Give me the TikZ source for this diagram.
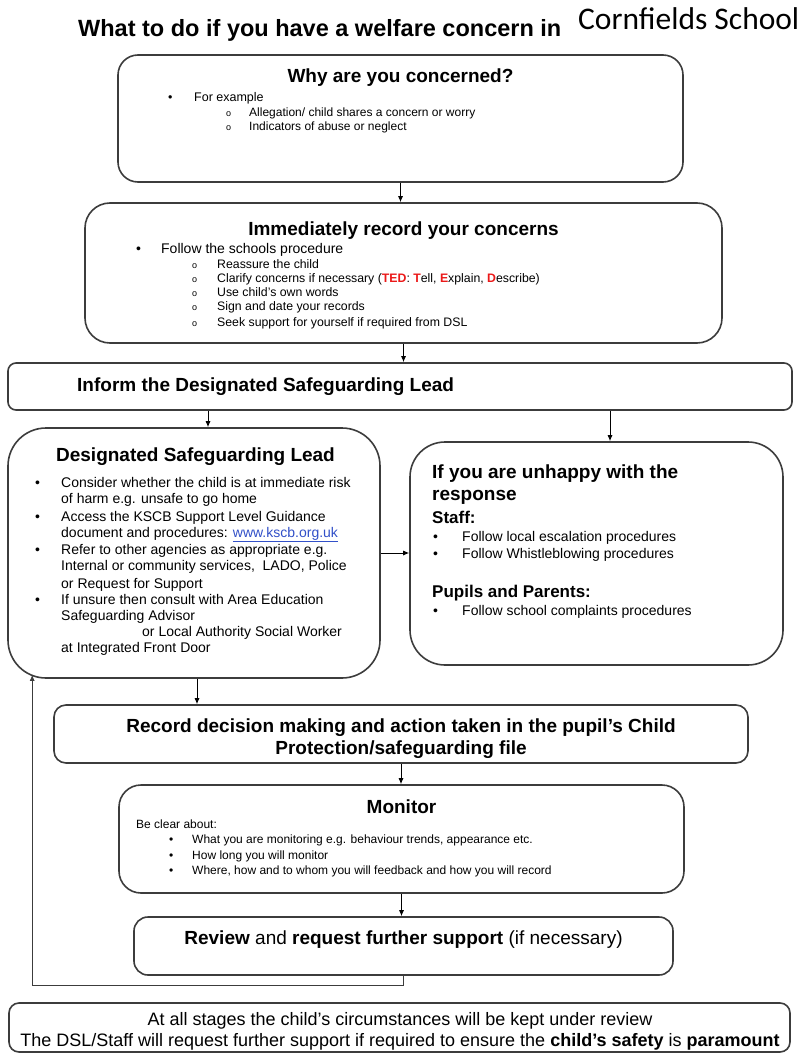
\documentclass[tikz,border=0pt]{standalone}
\usepackage{fontspec}
\usepackage{xcolor}
\setmainfont{Liberation Sans}
\newfontfamily\schoolfont{Carlito}
\usetikzlibrary{arrows.meta}

\definecolor{tedred}{RGB}{235,25,25}
\definecolor{linkblue}{RGB}{50,80,200}
\definecolor{edge}{RGB}{60,60,60}
\newcommand{\fsz}[2]{\fontsize{#1}{#2}\selectfont}
\newcommand{\ted}[1]{\textcolor{tedred}{\textbf{#1}}}
\newcommand{\subb}{{\fontsize{9}{9}\selectfont o}}
\newcommand{\weblink}[1]{\textcolor{linkblue}{\underline{#1}}}

\begin{document}
\begin{tikzpicture}[x=1pt,y=-1pt,
	box/.style={draw=edge,line width=1.6pt,inner sep=0pt,fill=white},
	flow/.style={-{Latex[length=6pt,width=5pt]},line width=0.9pt},
	txt/.style={anchor=base west,inner sep=0pt},
	head/.style={anchor=base,inner sep=0pt,font=\bfseries\fsz{19}{22}}]
	\useasboundingbox (0,0) rectangle (802,1054);

	\node[txt,font=\bfseries\fsz{23.5}{28}] (title) at (78,37) {What to do if you have a welfare concern in};
	\node[txt,font=\schoolfont\fsz{31.5}{36}] (school) at (578,30) {Cornfields School};

	\node[box,rounded corners=20pt,minimum width=565pt,minimum height=127pt] (why) at (400.5,118.5) {};
	\node[box,rounded corners=25pt,minimum width=637pt,minimum height=140pt] (imm) at (403.5,273) {};
	\node[box,rounded corners=8pt,minimum width=784pt,minimum height=47pt] (inform) at (400,386.5) {};
	\node[box,rounded corners=38pt,minimum width=372pt,minimum height=250pt] (dsl) at (194,553) {};
	\node[box,rounded corners=35pt,minimum width=373pt,minimum height=223pt] (unhappy) at (596.5,553.5) {};
	\node[box,rounded corners=12pt,minimum width=694pt,minimum height=58pt] (decision) at (401,734) {};
	\node[box,rounded corners=22pt,minimum width=565pt,minimum height=108pt] (monitor) at (401.5,839) {};
	\node[box,rounded corners=14pt,minimum width=539pt,minimum height=58pt] (review) at (403.5,946) {};
	\node[box,rounded corners=10pt,minimum width=781pt,minimum height=49pt] (stages) at (399.5,1027.5) {};

	\node[head] (whyT) at (400.5,83) {Why are you concerned?};
	\node[txt,font=\fsz{12.5}{15}] (whyA) at (168,101.5) {\makebox[26pt][l]{\textbullet}For example};
	\node[txt,font=\fsz{12}{14}] (whyB) at (226,116.5) {\begin{tabular}[t]{@{}p{23pt}@{}l@{}}
		\subb & Allegation/ child shares a concern or worry\\
		\subb & Indicators of abuse or neglect
	\end{tabular}};

	\node[head] (immT) at (403.5,235) {Immediately record your concerns};
	\node[txt,font=\fsz{14}{16}] (immA) at (136,253) {\makebox[25pt][l]{\textbullet}Follow the schools procedure};
	\node[txt,font=\fsz{12.3}{14}] (immB) at (192,268.5) {\begin{tabular}[t]{@{}p{25pt}@{}l@{}}
		\subb & Reassure the child\\
		\subb & Clarify concerns if necessary (\ted{TED}: \ted{T}ell, \ted{E}xplain, \ted{D}escribe)\\
		\subb & Use child’s own words\\
		\subb & Sign and date your records\\[2pt]
		\subb & Seek support for yourself if required from DSL
	\end{tabular}};

	\node[head,anchor=base west] (informT) at (77,391) {Inform the Designated Safeguarding Lead};

	\node[head] (dslT) at (195.5,461) {Designated Safeguarding Lead};
	\node[txt,font=\fsz{14}{16}] (dslB) at (35,487) {\begin{tabular}[t]{@{}p{26pt}@{}l@{}}
		\textbullet & Consider whether the child is at immediate risk\\
		& of harm e.g. unsafe to go home\\[2pt]
		\textbullet & Access the KSCB Support Level Guidance\\
		& document and procedures: \weblink{www.kscb.org.uk}\\[1pt]
		\textbullet & Refer to other agencies as appropriate e.g.\\
		& Internal or community services,\ \ LADO, Police\\[2pt]
		& or Request for Support\\
		\textbullet & If unsure then consult with Area Education\\
		& Safeguarding Advisor\\
		& \hspace*{81pt}or Local Authority Social Worker\\
		& at Integrated Front Door
	\end{tabular}};

	\node[txt,font=\bfseries\fsz{19}{22}] (sadT) at (432,478) {\begin{tabular}[t]{@{}l@{}}If you are unhappy with the\\response\end{tabular}};
	\node[txt,font=\bfseries\fsz{17}{20}] (staff) at (432,523) {Staff:};
	\node[txt,font=\fsz{14}{17}] (staffB) at (433,541) {\begin{tabular}[t]{@{}p{29pt}@{}l@{}}
		\textbullet & Follow local escalation procedures\\
		\textbullet & Follow Whistleblowing procedures
	\end{tabular}};
	\node[txt,font=\bfseries\fsz{17}{20}] (pupils) at (432,597) {Pupils and Parents:};
	\node[txt,font=\fsz{14}{17}] (pupilsB) at (433,615) {\makebox[29pt][l]{\textbullet}Follow school complaints procedures};

	\node[head] (decT) at (401,732) {\begin{tabular}[t]{@{}c@{}}Record decision making and action taken in the pupil’s Child\\Protection/safeguarding file\end{tabular}};

	\node[head] (monT) at (401.5,813) {Monitor};
	\node[txt,font=\fsz{12}{15.5}] (monB) at (136,828) {\begin{tabular}[t]{@{}p{33pt}@{}p{23pt}@{}l@{}}
		\multicolumn{3}{@{}l}{Be clear about:}\\
		& \textbullet & What you are monitoring e.g. behaviour trends, appearance etc.\\
		& \textbullet & How long you will monitor\\
		& \textbullet & Where, how and to whom you will feedback and how you will record
	\end{tabular}};

	\node[head,font=\fsz{19}{22}] (revT) at (403.5,944) {\textbf{Review} and \textbf{request further support} (if necessary)};

	\node[head,font=\fsz{18}{21}] (stagesT) at (400,1025) {\begin{tabular}[t]{@{}c@{}}At all stages the child’s circumstances will be kept under review\\The DSL/Staff will request further support if required to ensure the \textbf{child’s safety} is \textbf{paramount}\end{tabular}};

	\draw[flow] (why.south) -- (why.south |- imm.north);
	\draw[flow] (imm.south) -- (imm.south |- inform.north);
	\draw[flow] ([xshift=14pt]dsl.north |- inform.south) -- ([xshift=14pt]dsl.north);
	\draw[flow] ([xshift=13.5pt]unhappy.north |- inform.south) -- ([xshift=13.5pt]unhappy.north);
	\draw[flow] (dsl.east) -- (dsl.east -| unhappy.west);
	\draw[flow] ([xshift=3pt]dsl.south) -- ([xshift=3pt]dsl.south |- decision.north);
	\draw[flow] (decision.south) -- (decision.south |- monitor.north);
	\draw[flow] (monitor.south) -- (monitor.south |- review.north);
	\draw[flow,draw=edge,line width=0.8pt] (review.south) -- ++(0,10) -| ([xshift=25pt,yshift=4pt]dsl.south west);
\end{tikzpicture}
\end{document}
